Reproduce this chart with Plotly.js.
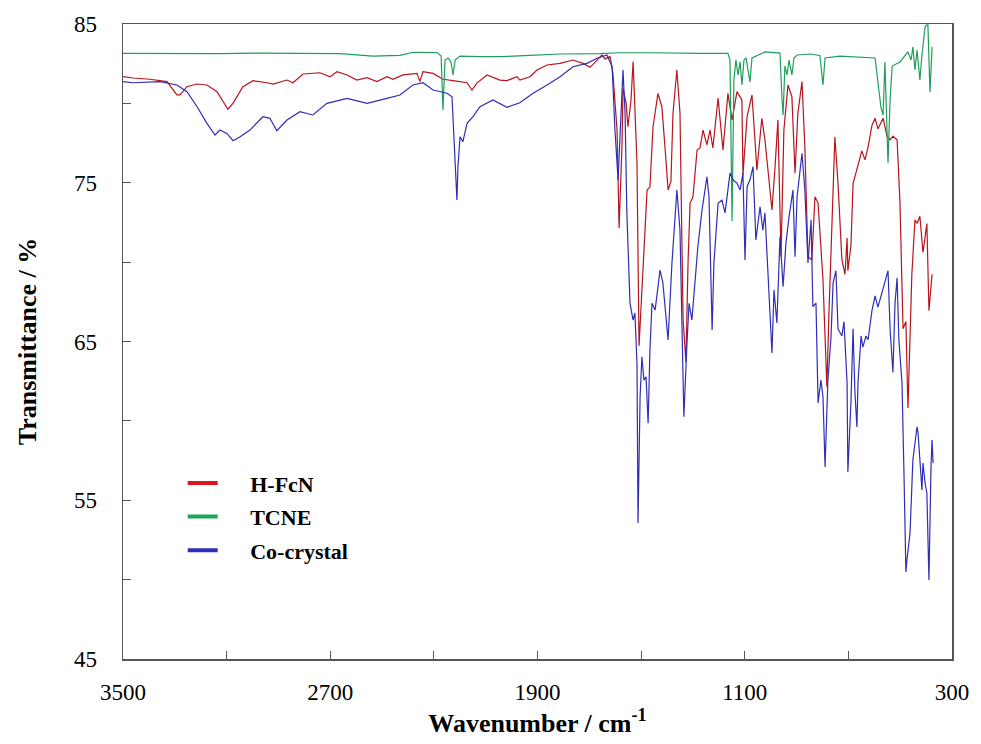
<!DOCTYPE html>
<html>
<head>
<meta charset="utf-8">
<script src="https://cdn.plot.ly/plotly-3.0.1.min.js"></script>
<style>html,body{margin:0;padding:0;background:#fff;}#chart{width:981px;height:744px;}</style>
</head>
<body>
<div id="chart"></div>
<script>
// H-FcN
const wnRed = [3500,3461,3396,3330,3292,3280,3253,3214,3176,3137,3095,3075,3037,2998,2944,2921,2867,2844,2805,2740,2701,2674,2635,2597,2558,2520,2481,2458,2419,2365,2354,2342,2303,2265,2226,2199,2172,2153,2134,2095,2045,2018,1979,1968,1929,1902,1863,1813,1763,1724,1697,1670,1651,1640,1620,1609,1593,1585,1574,1570,1558,1551,1539,1531,1516,1508,1493,1477,1466,1454,1435,1420,1408,1396,1385,1377,1362,1350,1338,1327,1319,1311,1300,1284,1273,1261,1246,1234,1223,1203,1184,1165,1149,1130,1111,1107,1091,1072,1053,1034,1022,1010,995,983,972,960,949,933,918,906,895,879,868,856,841,829,817,798,783,775,763,752,740,725,713,705,702,690,682,667,648,636,624,609,597,586,566,551,539,528,512,501,489,478,470,455,443,435,424,412,397,389,377];
const tRed = [81.68,81.60,81.52,81.37,80.53,80.53,81.05,81.22,81.16,80.74,79.63,80.02,81.05,81.43,81.30,81.22,81.47,81.30,81.85,81.93,81.68,81.99,81.79,81.47,81.62,81.37,81.68,81.52,81.79,81.89,81.37,81.99,81.89,81.52,81.43,81.37,81.30,80.84,81.28,81.79,81.47,81.43,81.68,81.47,81.68,82.10,82.42,82.52,82.73,82.52,82.27,82.73,83.05,82.80,82.94,81.91,78.32,72.15,77.27,80.95,80.02,78.53,80.21,82.63,76.24,64.72,69.94,74.54,74.73,78.53,80.63,79.79,77.27,74.54,75.07,79.39,82.10,79.39,66.35,63.70,69.94,73.72,74.10,77.06,77.19,78.32,77.38,78.32,77.19,80.34,77.06,80.63,78.95,80.74,80.21,75.49,79.16,80.53,75.80,79.06,77.69,75.80,73.28,76.01,78.95,70.34,78.32,81.16,80.42,75.60,79.37,81.37,77.27,70.34,70.13,74.12,73.72,68.87,62.15,66.80,72.02,77.88,74.95,70.15,69.23,71.52,69.46,71.06,74.95,75.87,77.01,76.44,77.24,78.61,79.07,78.39,79.07,77.93,77.70,77.93,77.70,73.81,65.80,66.26,60.81,69.23,72.67,72.43,72.89,70.61,72.43,66.94,69.23];

// TCNE
const wnGreen = [3500,3396,3280,3126,2971,2817,2662,2535,2431,2381,2288,2272,2265,2257,2245,2234,2226,2218,2199,2122,2045,1929,1813,1659,1582,1466,1350,1273,1165,1157,1149,1142,1134,1126,1118,1111,1103,1095,1080,1072,1022,964,956,952,945,937,929,918,910,898,848,810,798,790,732,655,597,574,566,559,547,539,531,501,481,470,458,451,443,435,424,416,404,397,393,385,381,377];
const tGreen = [83.15,83.14,83.11,83.14,83.17,83.15,83.14,82.98,83.02,83.22,83.20,82.98,79.58,82.73,82.86,82.61,81.79,82.73,82.98,82.95,82.94,83.02,83.11,83.14,83.19,83.19,83.15,83.15,83.15,82.73,72.59,81.47,82.73,81.79,82.61,81.16,82.73,82.86,81.35,82.86,83.24,83.17,80.21,79.27,82.35,81.79,82.73,81.79,82.86,83.05,83.11,83.02,81.16,82.86,82.98,82.92,82.86,79.71,79.27,82.61,76.24,80.21,82.35,82.61,83.05,83.24,82.73,83.55,82.10,83.36,81.47,83.05,84.81,84.94,84.94,80.72,82.10,83.55];

// Co-crystal
const wnBlue = [3500,3461,3357,3292,3253,3214,3176,3145,3126,3099,3075,3048,3010,2960,2933,2906,2867,2817,2767,2713,2635,2558,2481,2431,2381,2342,2303,2249,2230,2218,2211,2207,2199,2188,2172,2149,2122,2072,2018,1968,1917,1863,1813,1763,1709,1670,1647,1632,1612,1601,1589,1582,1570,1562,1555,1543,1531,1524,1516,1512,1504,1497,1489,1481,1473,1466,1458,1446,1427,1416,1400,1396,1381,1369,1362,1350,1338,1335,1323,1315,1304,1292,1281,1265,1246,1238,1226,1219,1203,1188,1176,1157,1145,1130,1118,1107,1099,1091,1080,1068,1057,1041,1030,1022,1010,995,987,976,964,952,941,929,914,906,898,879,868,856,844,837,825,817,806,798,790,779,767,759,748,740,725,717,705,702,690,682,675,667,663,651,644,632,624,609,597,586,570,559,547,539,528,520,512,505,493,485,478,474,462,451,435,431,416,412,404,397,389,381,377,373];
const tBlue = [81.37,81.30,81.37,81.16,80.74,79.79,78.74,78.01,78.32,78.11,77.65,77.90,78.32,79.16,79.06,78.28,78.95,79.48,79.27,80.00,80.32,80.00,80.32,80.53,81.16,81.30,80.84,80.64,80.42,76.43,73.91,76.01,77.90,77.59,78.74,79.16,79.79,80.21,79.75,80.04,80.64,81.16,81.68,82.31,82.52,82.84,82.94,83.05,82.31,78.32,75.17,77.59,82.10,79.39,73.10,67.42,66.35,66.80,63.65,53.57,61.52,64.04,62.57,62.78,59.85,64.47,67.41,66.98,69.50,68.69,65.72,65.09,69.94,73.10,74.54,72.02,61.52,60.26,64.91,67.41,66.35,68.87,70.97,73.28,75.38,74.12,65.72,69.94,73.70,73.91,73.10,75.61,75.17,74.98,74.54,75.61,70.13,74.75,75.17,76.01,71.40,73.49,72.02,73.10,69.50,64.28,68.24,66.17,71.60,68.45,71.19,72.86,74.54,70.34,74.12,76.86,74.54,69.94,72.65,67.19,67.42,61.13,62.57,61.52,57.09,62.57,65.30,68.69,69.46,65.80,65.35,66.26,62.37,56.78,61.22,65.80,61.91,59.62,62.37,65.35,64.65,65.35,65.11,66.94,67.87,67.17,68.09,68.77,69.46,65.80,63.05,67.40,69.00,65.11,62.37,56.41,50.48,51.24,52.94,57.54,59.63,59.24,55.65,57.35,56.09,55.46,49.98,57.11,58.80,57.35];

const seriesNames = ['H-FcN','TCNE','Co-crystal'];
const xTickVals = [3500,2700,1900,1100,300];
const yTickVals = [45,55,65,75,85];

const colGreen = '#1E9E5A', colBlue = '#2E2EB8';
const legCols = ['#E0141E','#1EA85A','#2E2EB8'];
const pad = '\u00a0\u00a0\u00a0\u00a0\u00a0';
const serif = 'Liberation Serif';

const traces = [
  {x: wnRed, y: tRed, type: 'scatter', mode: 'lines', line: {color: '#B8141E', width: 1.2}, showlegend: false, hoverinfo: 'skip'},
  {x: wnGreen, y: tGreen, type: 'scatter', mode: 'lines', line: {color: colGreen, width: 1.2}, showlegend: false, hoverinfo: 'skip'},
  {x: wnBlue, y: tBlue, type: 'scatter', mode: 'lines', line: {color: colBlue, width: 1.2}, showlegend: false, hoverinfo: 'skip'}
];
seriesNames.forEach((n, i) => {
  traces.push({x: [null], y: [null], type: 'scatter', mode: 'lines', name: pad + n, legendgroup: 'g' + i,
    line: {color: legCols[i], width: 4}, showlegend: true});
});

const tickFont = {family: serif, size: 23, color: '#000', weight: 'normal'};
const titleFont = {family: serif, size: 26, color: '#000', weight: 'bold'};

const layout = {
  width: 981, height: 744,
  margin: {l: 123, r: 29, t: 24, b: 85},
  paper_bgcolor: '#fff', plot_bgcolor: '#fff',
  font: {family: serif, color: '#000'},
  showlegend: true,
  legend: {x: 0.072, y: 0.31, xanchor: 'left', yanchor: 'top', bgcolor: 'rgba(0,0,0,0)', tracegroupgap: 2,
    font: {family: serif, size: 22, color: '#000', weight: 'bold'}},
  xaxis: {
    range: [3500, 300], autorange: false,
    tickvals: xTickVals, ticktext: xTickVals.map(String),
    ticks: 'inside', ticklen: 8, tickwidth: 1, tickcolor: '#555',
    minor: {dtick: 400, tick0: 300, ticks: 'inside', ticklen: 8, tickcolor: '#555', showgrid: false},
    showline: true, linecolor: '#555', linewidth: 1.5, mirror: true,
    showgrid: false, zeroline: false,
    tickfont: tickFont, ticklabelstandoff: 12,
    title: {text: 'Wavenumber / cm<sup>-1</sup>', font: titleFont, standoff: 8}
  },
  yaxis: {
    range: [45, 85], autorange: false,
    tickvals: yTickVals, ticktext: yTickVals.map(String),
    ticks: 'inside', ticklen: 8, tickwidth: 1, tickcolor: '#555',
    minor: {dtick: 5, tick0: 45, ticks: 'inside', ticklen: 8, tickcolor: '#555', showgrid: false},
    showline: true, linecolor: '#555', linewidth: 1.5, mirror: true,
    showgrid: false, zeroline: false,
    tickfont: tickFont, ticklabelstandoff: 20,
    title: {text: 'Transmittance / %', font: titleFont, standoff: 30}
  }
};

Plotly.newPlot('chart', traces, layout, {staticPlot: true, displayModeBar: false});
</script>
</body>
</html>
